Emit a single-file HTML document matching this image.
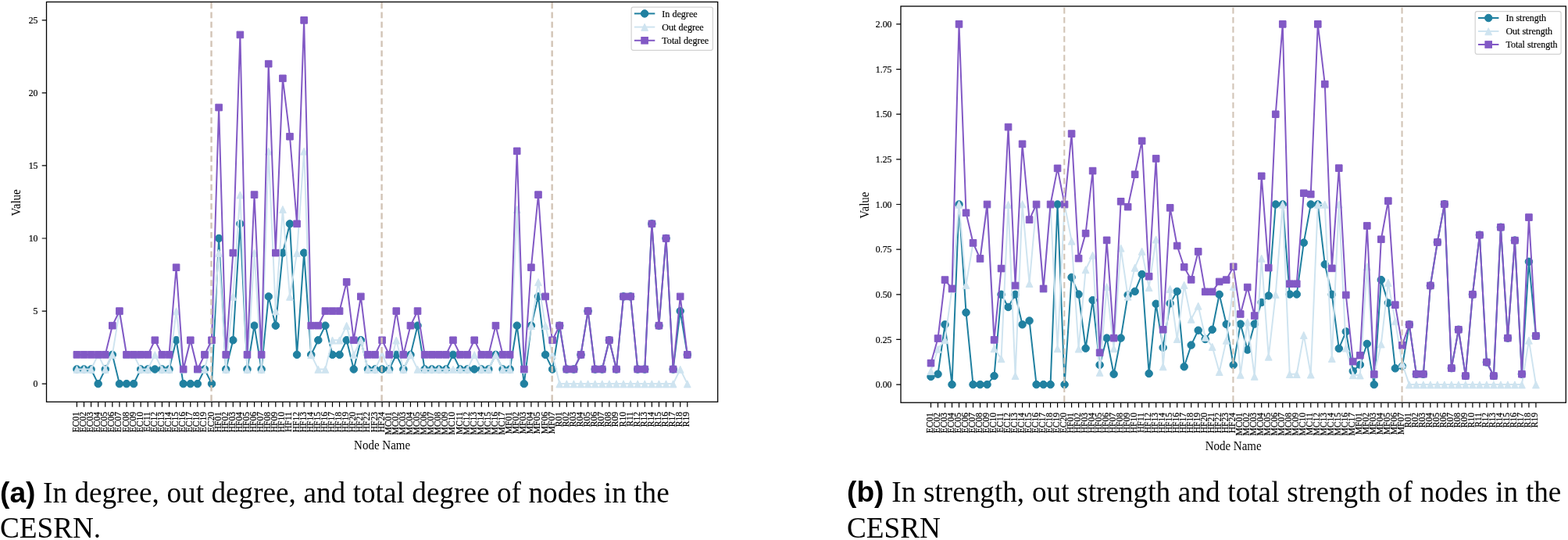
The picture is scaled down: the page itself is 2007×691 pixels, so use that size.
<!DOCTYPE html>
<html><head><meta charset="utf-8"><title>CESRN degree and strength</title>
<style>html,body{margin:0;padding:0;background:#fff}body{width:2007px;height:691px;position:relative;overflow:hidden}</style>
</head><body>
<svg width="2007" height="691" viewBox="0 0 2007 691" style="position:absolute;left:0;top:0"><clipPath id="ca"><rect x="59.5" y="2.5" width="859.2" height="511.75"/></clipPath>
<g clip-path="url(#ca)">
<polyline points="98.4,472.49 107.49,472.49 116.57,472.49 125.66,491.1 134.74,472.49 143.83,453.88 152.92,491.1 162,491.1 171.09,491.1 180.17,472.49 189.26,472.49 198.35,472.49 207.43,472.49 216.52,472.49 225.6,435.27 234.69,491.1 243.78,491.1 252.86,491.1 261.95,472.49 271.03,491.1 280.12,305 289.21,472.49 298.29,435.27 307.38,286.39 316.46,472.49 325.55,416.66 334.64,472.49 343.72,379.44 352.81,416.66 361.89,323.61 370.98,286.39 380.07,453.88 389.15,323.61 398.24,453.88 407.32,435.27 416.41,416.66 425.5,453.88 434.58,453.88 443.67,435.27 452.75,472.49 461.84,435.27 470.93,472.49 480.01,472.49 489.1,472.49 498.18,472.49 507.27,453.88 516.36,472.49 525.44,453.88 534.53,416.66 543.61,472.49 552.7,472.49 561.79,472.49 570.87,472.49 579.96,453.88 589.04,472.49 598.13,472.49 607.22,472.49 616.3,472.49 625.39,472.49 634.47,453.88 643.56,472.49 652.65,472.49 661.73,416.66 670.82,491.1 679.9,416.66 688.99,379.44 698.08,453.88 707.16,472.49 716.25,416.66 725.33,472.49 734.42,472.49 743.51,453.88 752.59,398.05 761.68,472.49 770.76,472.49 779.85,435.27 788.94,472.49 798.02,379.44 807.11,379.44 816.19,472.49 825.28,472.49 834.37,286.39 843.45,416.66 852.54,305 861.62,472.49 870.71,398.05 879.8,453.88" fill="none" stroke="#2080a0" stroke-width="2" stroke-linejoin="round"/>
<path d="M93.65,472.49a4.75,4.75 0 1,0 9.5,0a4.75,4.75 0 1,0 -9.5,0ZM102.74,472.49a4.75,4.75 0 1,0 9.5,0a4.75,4.75 0 1,0 -9.5,0ZM111.82,472.49a4.75,4.75 0 1,0 9.5,0a4.75,4.75 0 1,0 -9.5,0ZM120.91,491.1a4.75,4.75 0 1,0 9.5,0a4.75,4.75 0 1,0 -9.5,0ZM129.99,472.49a4.75,4.75 0 1,0 9.5,0a4.75,4.75 0 1,0 -9.5,0ZM139.08,453.88a4.75,4.75 0 1,0 9.5,0a4.75,4.75 0 1,0 -9.5,0ZM148.17,491.1a4.75,4.75 0 1,0 9.5,0a4.75,4.75 0 1,0 -9.5,0ZM157.25,491.1a4.75,4.75 0 1,0 9.5,0a4.75,4.75 0 1,0 -9.5,0ZM166.34,491.1a4.75,4.75 0 1,0 9.5,0a4.75,4.75 0 1,0 -9.5,0ZM175.42,472.49a4.75,4.75 0 1,0 9.5,0a4.75,4.75 0 1,0 -9.5,0ZM184.51,472.49a4.75,4.75 0 1,0 9.5,0a4.75,4.75 0 1,0 -9.5,0ZM193.6,472.49a4.75,4.75 0 1,0 9.5,0a4.75,4.75 0 1,0 -9.5,0ZM202.68,472.49a4.75,4.75 0 1,0 9.5,0a4.75,4.75 0 1,0 -9.5,0ZM211.77,472.49a4.75,4.75 0 1,0 9.5,0a4.75,4.75 0 1,0 -9.5,0ZM220.85,435.27a4.75,4.75 0 1,0 9.5,0a4.75,4.75 0 1,0 -9.5,0ZM229.94,491.1a4.75,4.75 0 1,0 9.5,0a4.75,4.75 0 1,0 -9.5,0ZM239.03,491.1a4.75,4.75 0 1,0 9.5,0a4.75,4.75 0 1,0 -9.5,0ZM248.11,491.1a4.75,4.75 0 1,0 9.5,0a4.75,4.75 0 1,0 -9.5,0ZM257.2,472.49a4.75,4.75 0 1,0 9.5,0a4.75,4.75 0 1,0 -9.5,0ZM266.28,491.1a4.75,4.75 0 1,0 9.5,0a4.75,4.75 0 1,0 -9.5,0ZM275.37,305a4.75,4.75 0 1,0 9.5,0a4.75,4.75 0 1,0 -9.5,0ZM284.46,472.49a4.75,4.75 0 1,0 9.5,0a4.75,4.75 0 1,0 -9.5,0ZM293.54,435.27a4.75,4.75 0 1,0 9.5,0a4.75,4.75 0 1,0 -9.5,0ZM302.63,286.39a4.75,4.75 0 1,0 9.5,0a4.75,4.75 0 1,0 -9.5,0ZM311.71,472.49a4.75,4.75 0 1,0 9.5,0a4.75,4.75 0 1,0 -9.5,0ZM320.8,416.66a4.75,4.75 0 1,0 9.5,0a4.75,4.75 0 1,0 -9.5,0ZM329.89,472.49a4.75,4.75 0 1,0 9.5,0a4.75,4.75 0 1,0 -9.5,0ZM338.97,379.44a4.75,4.75 0 1,0 9.5,0a4.75,4.75 0 1,0 -9.5,0ZM348.06,416.66a4.75,4.75 0 1,0 9.5,0a4.75,4.75 0 1,0 -9.5,0ZM357.14,323.61a4.75,4.75 0 1,0 9.5,0a4.75,4.75 0 1,0 -9.5,0ZM366.23,286.39a4.75,4.75 0 1,0 9.5,0a4.75,4.75 0 1,0 -9.5,0ZM375.32,453.88a4.75,4.75 0 1,0 9.5,0a4.75,4.75 0 1,0 -9.5,0ZM384.4,323.61a4.75,4.75 0 1,0 9.5,0a4.75,4.75 0 1,0 -9.5,0ZM393.49,453.88a4.75,4.75 0 1,0 9.5,0a4.75,4.75 0 1,0 -9.5,0ZM402.57,435.27a4.75,4.75 0 1,0 9.5,0a4.75,4.75 0 1,0 -9.5,0ZM411.66,416.66a4.75,4.75 0 1,0 9.5,0a4.75,4.75 0 1,0 -9.5,0ZM420.75,453.88a4.75,4.75 0 1,0 9.5,0a4.75,4.75 0 1,0 -9.5,0ZM429.83,453.88a4.75,4.75 0 1,0 9.5,0a4.75,4.75 0 1,0 -9.5,0ZM438.92,435.27a4.75,4.75 0 1,0 9.5,0a4.75,4.75 0 1,0 -9.5,0ZM448,472.49a4.75,4.75 0 1,0 9.5,0a4.75,4.75 0 1,0 -9.5,0ZM457.09,435.27a4.75,4.75 0 1,0 9.5,0a4.75,4.75 0 1,0 -9.5,0ZM466.18,472.49a4.75,4.75 0 1,0 9.5,0a4.75,4.75 0 1,0 -9.5,0ZM475.26,472.49a4.75,4.75 0 1,0 9.5,0a4.75,4.75 0 1,0 -9.5,0ZM484.35,472.49a4.75,4.75 0 1,0 9.5,0a4.75,4.75 0 1,0 -9.5,0ZM493.43,472.49a4.75,4.75 0 1,0 9.5,0a4.75,4.75 0 1,0 -9.5,0ZM502.52,453.88a4.75,4.75 0 1,0 9.5,0a4.75,4.75 0 1,0 -9.5,0ZM511.61,472.49a4.75,4.75 0 1,0 9.5,0a4.75,4.75 0 1,0 -9.5,0ZM520.69,453.88a4.75,4.75 0 1,0 9.5,0a4.75,4.75 0 1,0 -9.5,0ZM529.78,416.66a4.75,4.75 0 1,0 9.5,0a4.75,4.75 0 1,0 -9.5,0ZM538.86,472.49a4.75,4.75 0 1,0 9.5,0a4.75,4.75 0 1,0 -9.5,0ZM547.95,472.49a4.75,4.75 0 1,0 9.5,0a4.75,4.75 0 1,0 -9.5,0ZM557.04,472.49a4.75,4.75 0 1,0 9.5,0a4.75,4.75 0 1,0 -9.5,0ZM566.12,472.49a4.75,4.75 0 1,0 9.5,0a4.75,4.75 0 1,0 -9.5,0ZM575.21,453.88a4.75,4.75 0 1,0 9.5,0a4.75,4.75 0 1,0 -9.5,0ZM584.29,472.49a4.75,4.75 0 1,0 9.5,0a4.75,4.75 0 1,0 -9.5,0ZM593.38,472.49a4.75,4.75 0 1,0 9.5,0a4.75,4.75 0 1,0 -9.5,0ZM602.47,472.49a4.75,4.75 0 1,0 9.5,0a4.75,4.75 0 1,0 -9.5,0ZM611.55,472.49a4.75,4.75 0 1,0 9.5,0a4.75,4.75 0 1,0 -9.5,0ZM620.64,472.49a4.75,4.75 0 1,0 9.5,0a4.75,4.75 0 1,0 -9.5,0ZM629.72,453.88a4.75,4.75 0 1,0 9.5,0a4.75,4.75 0 1,0 -9.5,0ZM638.81,472.49a4.75,4.75 0 1,0 9.5,0a4.75,4.75 0 1,0 -9.5,0ZM647.9,472.49a4.75,4.75 0 1,0 9.5,0a4.75,4.75 0 1,0 -9.5,0ZM656.98,416.66a4.75,4.75 0 1,0 9.5,0a4.75,4.75 0 1,0 -9.5,0ZM666.07,491.1a4.75,4.75 0 1,0 9.5,0a4.75,4.75 0 1,0 -9.5,0ZM675.15,416.66a4.75,4.75 0 1,0 9.5,0a4.75,4.75 0 1,0 -9.5,0ZM684.24,379.44a4.75,4.75 0 1,0 9.5,0a4.75,4.75 0 1,0 -9.5,0ZM693.33,453.88a4.75,4.75 0 1,0 9.5,0a4.75,4.75 0 1,0 -9.5,0ZM702.41,472.49a4.75,4.75 0 1,0 9.5,0a4.75,4.75 0 1,0 -9.5,0ZM711.5,416.66a4.75,4.75 0 1,0 9.5,0a4.75,4.75 0 1,0 -9.5,0ZM720.58,472.49a4.75,4.75 0 1,0 9.5,0a4.75,4.75 0 1,0 -9.5,0ZM729.67,472.49a4.75,4.75 0 1,0 9.5,0a4.75,4.75 0 1,0 -9.5,0ZM738.76,453.88a4.75,4.75 0 1,0 9.5,0a4.75,4.75 0 1,0 -9.5,0ZM747.84,398.05a4.75,4.75 0 1,0 9.5,0a4.75,4.75 0 1,0 -9.5,0ZM756.93,472.49a4.75,4.75 0 1,0 9.5,0a4.75,4.75 0 1,0 -9.5,0ZM766.01,472.49a4.75,4.75 0 1,0 9.5,0a4.75,4.75 0 1,0 -9.5,0ZM775.1,435.27a4.75,4.75 0 1,0 9.5,0a4.75,4.75 0 1,0 -9.5,0ZM784.19,472.49a4.75,4.75 0 1,0 9.5,0a4.75,4.75 0 1,0 -9.5,0ZM793.27,379.44a4.75,4.75 0 1,0 9.5,0a4.75,4.75 0 1,0 -9.5,0ZM802.36,379.44a4.75,4.75 0 1,0 9.5,0a4.75,4.75 0 1,0 -9.5,0ZM811.44,472.49a4.75,4.75 0 1,0 9.5,0a4.75,4.75 0 1,0 -9.5,0ZM820.53,472.49a4.75,4.75 0 1,0 9.5,0a4.75,4.75 0 1,0 -9.5,0ZM829.62,286.39a4.75,4.75 0 1,0 9.5,0a4.75,4.75 0 1,0 -9.5,0ZM838.7,416.66a4.75,4.75 0 1,0 9.5,0a4.75,4.75 0 1,0 -9.5,0ZM847.79,305a4.75,4.75 0 1,0 9.5,0a4.75,4.75 0 1,0 -9.5,0ZM856.87,472.49a4.75,4.75 0 1,0 9.5,0a4.75,4.75 0 1,0 -9.5,0ZM865.96,398.05a4.75,4.75 0 1,0 9.5,0a4.75,4.75 0 1,0 -9.5,0ZM875.05,453.88a4.75,4.75 0 1,0 9.5,0a4.75,4.75 0 1,0 -9.5,0Z" fill="#2080a0" stroke="#2080a0" stroke-width="1"/>
<polyline points="98.4,472.49 107.49,472.49 116.57,472.49 125.66,453.88 134.74,472.49 143.83,453.88 152.92,398.05 162,453.88 171.09,453.88 180.17,472.49 189.26,472.49 198.35,453.88 207.43,472.49 216.52,472.49 225.6,398.05 234.69,472.49 243.78,435.27 252.86,472.49 261.95,472.49 271.03,435.27 280.12,323.61 289.21,472.49 298.29,379.44 307.38,249.17 316.46,472.49 325.55,323.61 334.64,472.49 343.72,193.34 352.81,398.05 361.89,267.78 370.98,379.44 380.07,323.61 389.15,193.34 398.24,453.88 407.32,472.49 416.41,472.49 425.5,435.27 434.58,435.27 443.67,416.66 452.75,453.88 461.84,435.27 470.93,472.49 480.01,472.49 489.1,453.88 498.18,472.49 507.27,435.27 516.36,472.49 525.44,453.88 534.53,472.49 543.61,472.49 552.7,472.49 561.79,472.49 570.87,472.49 579.96,472.49 589.04,472.49 598.13,472.49 607.22,453.88 616.3,472.49 625.39,472.49 634.47,453.88 643.56,472.49 652.65,472.49 661.73,267.78 670.82,472.49 679.9,416.66 688.99,360.83 698.08,416.66 707.16,453.88 716.25,491.1 725.33,491.1 734.42,491.1 743.51,491.1 752.59,491.1 761.68,491.1 770.76,491.1 779.85,491.1 788.94,491.1 798.02,491.1 807.11,491.1 816.19,491.1 825.28,491.1 834.37,491.1 843.45,491.1 852.54,491.1 861.62,491.1 870.71,472.49 879.8,491.1" fill="none" stroke="#cfe4f0" stroke-width="2" stroke-linejoin="round"/>
<path d="M98.4,468.19L94,477.29L102.8,477.29ZM107.49,468.19L103.09,477.29L111.89,477.29ZM116.57,468.19L112.17,477.29L120.97,477.29ZM125.66,449.58L121.26,458.68L130.06,458.68ZM134.74,468.19L130.34,477.29L139.14,477.29ZM143.83,449.58L139.43,458.68L148.23,458.68ZM152.92,393.75L148.52,402.85L157.32,402.85ZM162,449.58L157.6,458.68L166.4,458.68ZM171.09,449.58L166.69,458.68L175.49,458.68ZM180.17,468.19L175.77,477.29L184.57,477.29ZM189.26,468.19L184.86,477.29L193.66,477.29ZM198.35,449.58L193.95,458.68L202.75,458.68ZM207.43,468.19L203.03,477.29L211.83,477.29ZM216.52,468.19L212.12,477.29L220.92,477.29ZM225.6,393.75L221.2,402.85L230,402.85ZM234.69,468.19L230.29,477.29L239.09,477.29ZM243.78,430.97L239.38,440.07L248.18,440.07ZM252.86,468.19L248.46,477.29L257.26,477.29ZM261.95,468.19L257.55,477.29L266.35,477.29ZM271.03,430.97L266.63,440.07L275.43,440.07ZM280.12,319.31L275.72,328.41L284.52,328.41ZM289.21,468.19L284.81,477.29L293.61,477.29ZM298.29,375.14L293.89,384.24L302.69,384.24ZM307.38,244.87L302.98,253.97L311.78,253.97ZM316.46,468.19L312.06,477.29L320.86,477.29ZM325.55,319.31L321.15,328.41L329.95,328.41ZM334.64,468.19L330.24,477.29L339.04,477.29ZM343.72,189.04L339.32,198.14L348.12,198.14ZM352.81,393.75L348.41,402.85L357.21,402.85ZM361.89,263.48L357.49,272.58L366.29,272.58ZM370.98,375.14L366.58,384.24L375.38,384.24ZM380.07,319.31L375.67,328.41L384.47,328.41ZM389.15,189.04L384.75,198.14L393.55,198.14ZM398.24,449.58L393.84,458.68L402.64,458.68ZM407.32,468.19L402.92,477.29L411.72,477.29ZM416.41,468.19L412.01,477.29L420.81,477.29ZM425.5,430.97L421.1,440.07L429.9,440.07ZM434.58,430.97L430.18,440.07L438.98,440.07ZM443.67,412.36L439.27,421.46L448.07,421.46ZM452.75,449.58L448.35,458.68L457.15,458.68ZM461.84,430.97L457.44,440.07L466.24,440.07ZM470.93,468.19L466.53,477.29L475.33,477.29ZM480.01,468.19L475.61,477.29L484.41,477.29ZM489.1,449.58L484.7,458.68L493.5,458.68ZM498.18,468.19L493.78,477.29L502.58,477.29ZM507.27,430.97L502.87,440.07L511.67,440.07ZM516.36,468.19L511.96,477.29L520.76,477.29ZM525.44,449.58L521.04,458.68L529.84,458.68ZM534.53,468.19L530.13,477.29L538.93,477.29ZM543.61,468.19L539.21,477.29L548.01,477.29ZM552.7,468.19L548.3,477.29L557.1,477.29ZM561.79,468.19L557.39,477.29L566.19,477.29ZM570.87,468.19L566.47,477.29L575.27,477.29ZM579.96,468.19L575.56,477.29L584.36,477.29ZM589.04,468.19L584.64,477.29L593.44,477.29ZM598.13,468.19L593.73,477.29L602.53,477.29ZM607.22,449.58L602.82,458.68L611.62,458.68ZM616.3,468.19L611.9,477.29L620.7,477.29ZM625.39,468.19L620.99,477.29L629.79,477.29ZM634.47,449.58L630.07,458.68L638.87,458.68ZM643.56,468.19L639.16,477.29L647.96,477.29ZM652.65,468.19L648.25,477.29L657.05,477.29ZM661.73,263.48L657.33,272.58L666.13,272.58ZM670.82,468.19L666.42,477.29L675.22,477.29ZM679.9,412.36L675.5,421.46L684.3,421.46ZM688.99,356.53L684.59,365.63L693.39,365.63ZM698.08,412.36L693.68,421.46L702.48,421.46ZM707.16,449.58L702.76,458.68L711.56,458.68ZM716.25,486.8L711.85,495.9L720.65,495.9ZM725.33,486.8L720.93,495.9L729.73,495.9ZM734.42,486.8L730.02,495.9L738.82,495.9ZM743.51,486.8L739.11,495.9L747.91,495.9ZM752.59,486.8L748.19,495.9L756.99,495.9ZM761.68,486.8L757.28,495.9L766.08,495.9ZM770.76,486.8L766.36,495.9L775.16,495.9ZM779.85,486.8L775.45,495.9L784.25,495.9ZM788.94,486.8L784.54,495.9L793.34,495.9ZM798.02,486.8L793.62,495.9L802.42,495.9ZM807.11,486.8L802.71,495.9L811.51,495.9ZM816.19,486.8L811.79,495.9L820.59,495.9ZM825.28,486.8L820.88,495.9L829.68,495.9ZM834.37,486.8L829.97,495.9L838.77,495.9ZM843.45,486.8L839.05,495.9L847.85,495.9ZM852.54,486.8L848.14,495.9L856.94,495.9ZM861.62,486.8L857.22,495.9L866.02,495.9ZM870.71,468.19L866.31,477.29L875.11,477.29ZM879.8,486.8L875.4,495.9L884.2,495.9Z" fill="#cfe4f0" stroke="#cfe4f0" stroke-width="1"/>
<polyline points="98.4,453.88 107.49,453.88 116.57,453.88 125.66,453.88 134.74,453.88 143.83,416.66 152.92,398.05 162,453.88 171.09,453.88 180.17,453.88 189.26,453.88 198.35,435.27 207.43,453.88 216.52,453.88 225.6,342.22 234.69,472.49 243.78,435.27 252.86,472.49 261.95,453.88 271.03,435.27 280.12,137.51 289.21,453.88 298.29,323.61 307.38,44.46 316.46,453.88 325.55,249.17 334.64,453.88 343.72,81.68 352.81,323.61 361.89,100.29 370.98,174.73 380.07,286.39 389.15,25.85 398.24,416.66 407.32,416.66 416.41,398.05 425.5,398.05 434.58,398.05 443.67,360.83 452.75,435.27 461.84,379.44 470.93,453.88 480.01,453.88 489.1,435.27 498.18,453.88 507.27,398.05 516.36,453.88 525.44,416.66 534.53,398.05 543.61,453.88 552.7,453.88 561.79,453.88 570.87,453.88 579.96,435.27 589.04,453.88 598.13,453.88 607.22,435.27 616.3,453.88 625.39,453.88 634.47,416.66 643.56,453.88 652.65,453.88 661.73,193.34 670.82,472.49 679.9,342.22 688.99,249.17 698.08,379.44 707.16,435.27 716.25,416.66 725.33,472.49 734.42,472.49 743.51,453.88 752.59,398.05 761.68,472.49 770.76,472.49 779.85,435.27 788.94,472.49 798.02,379.44 807.11,379.44 816.19,472.49 825.28,472.49 834.37,286.39 843.45,416.66 852.54,305 861.62,472.49 870.71,379.44 879.8,453.88" fill="none" stroke="#8259c5" stroke-width="2" stroke-linejoin="round"/>
<path d="M94.1,449.58h8.6v8.6h-8.6ZM103.19,449.58h8.6v8.6h-8.6ZM112.27,449.58h8.6v8.6h-8.6ZM121.36,449.58h8.6v8.6h-8.6ZM130.44,449.58h8.6v8.6h-8.6ZM139.53,412.36h8.6v8.6h-8.6ZM148.62,393.75h8.6v8.6h-8.6ZM157.7,449.58h8.6v8.6h-8.6ZM166.79,449.58h8.6v8.6h-8.6ZM175.87,449.58h8.6v8.6h-8.6ZM184.96,449.58h8.6v8.6h-8.6ZM194.05,430.97h8.6v8.6h-8.6ZM203.13,449.58h8.6v8.6h-8.6ZM212.22,449.58h8.6v8.6h-8.6ZM221.3,337.92h8.6v8.6h-8.6ZM230.39,468.19h8.6v8.6h-8.6ZM239.48,430.97h8.6v8.6h-8.6ZM248.56,468.19h8.6v8.6h-8.6ZM257.65,449.58h8.6v8.6h-8.6ZM266.73,430.97h8.6v8.6h-8.6ZM275.82,133.21h8.6v8.6h-8.6ZM284.91,449.58h8.6v8.6h-8.6ZM293.99,319.31h8.6v8.6h-8.6ZM303.08,40.16h8.6v8.6h-8.6ZM312.16,449.58h8.6v8.6h-8.6ZM321.25,244.87h8.6v8.6h-8.6ZM330.34,449.58h8.6v8.6h-8.6ZM339.42,77.38h8.6v8.6h-8.6ZM348.51,319.31h8.6v8.6h-8.6ZM357.59,95.99h8.6v8.6h-8.6ZM366.68,170.43h8.6v8.6h-8.6ZM375.77,282.09h8.6v8.6h-8.6ZM384.85,21.55h8.6v8.6h-8.6ZM393.94,412.36h8.6v8.6h-8.6ZM403.02,412.36h8.6v8.6h-8.6ZM412.11,393.75h8.6v8.6h-8.6ZM421.2,393.75h8.6v8.6h-8.6ZM430.28,393.75h8.6v8.6h-8.6ZM439.37,356.53h8.6v8.6h-8.6ZM448.45,430.97h8.6v8.6h-8.6ZM457.54,375.14h8.6v8.6h-8.6ZM466.63,449.58h8.6v8.6h-8.6ZM475.71,449.58h8.6v8.6h-8.6ZM484.8,430.97h8.6v8.6h-8.6ZM493.88,449.58h8.6v8.6h-8.6ZM502.97,393.75h8.6v8.6h-8.6ZM512.06,449.58h8.6v8.6h-8.6ZM521.14,412.36h8.6v8.6h-8.6ZM530.23,393.75h8.6v8.6h-8.6ZM539.31,449.58h8.6v8.6h-8.6ZM548.4,449.58h8.6v8.6h-8.6ZM557.49,449.58h8.6v8.6h-8.6ZM566.57,449.58h8.6v8.6h-8.6ZM575.66,430.97h8.6v8.6h-8.6ZM584.74,449.58h8.6v8.6h-8.6ZM593.83,449.58h8.6v8.6h-8.6ZM602.92,430.97h8.6v8.6h-8.6ZM612,449.58h8.6v8.6h-8.6ZM621.09,449.58h8.6v8.6h-8.6ZM630.17,412.36h8.6v8.6h-8.6ZM639.26,449.58h8.6v8.6h-8.6ZM648.35,449.58h8.6v8.6h-8.6ZM657.43,189.04h8.6v8.6h-8.6ZM666.52,468.19h8.6v8.6h-8.6ZM675.6,337.92h8.6v8.6h-8.6ZM684.69,244.87h8.6v8.6h-8.6ZM693.78,375.14h8.6v8.6h-8.6ZM702.86,430.97h8.6v8.6h-8.6ZM711.95,412.36h8.6v8.6h-8.6ZM721.03,468.19h8.6v8.6h-8.6ZM730.12,468.19h8.6v8.6h-8.6ZM739.21,449.58h8.6v8.6h-8.6ZM748.29,393.75h8.6v8.6h-8.6ZM757.38,468.19h8.6v8.6h-8.6ZM766.46,468.19h8.6v8.6h-8.6ZM775.55,430.97h8.6v8.6h-8.6ZM784.64,468.19h8.6v8.6h-8.6ZM793.72,375.14h8.6v8.6h-8.6ZM802.81,375.14h8.6v8.6h-8.6ZM811.89,468.19h8.6v8.6h-8.6ZM820.98,468.19h8.6v8.6h-8.6ZM830.07,282.09h8.6v8.6h-8.6ZM839.15,412.36h8.6v8.6h-8.6ZM848.24,300.7h8.6v8.6h-8.6ZM857.32,468.19h8.6v8.6h-8.6ZM866.41,375.14h8.6v8.6h-8.6ZM875.5,449.58h8.6v8.6h-8.6Z" fill="#8259c5" stroke="#8259c5" stroke-width="1"/>
<line x1="270.53" y1="3.3" x2="270.53" y2="516.25" stroke="#d2c4b6" stroke-width="2.4" stroke-dasharray="7.8,4.44"/>
<line x1="488.6" y1="3.3" x2="488.6" y2="516.25" stroke="#d2c4b6" stroke-width="2.4" stroke-dasharray="7.8,4.44"/>
<line x1="706.66" y1="3.3" x2="706.66" y2="516.25" stroke="#d2c4b6" stroke-width="2.4" stroke-dasharray="7.8,4.44"/>
</g>
<rect x="59.5" y="2.5" width="859.2" height="511.75" fill="none" stroke="#000" stroke-width="1.3"/>
<path d="M98.4,514.25v6.4M107.49,514.25v6.4M116.57,514.25v6.4M125.66,514.25v6.4M134.74,514.25v6.4M143.83,514.25v6.4M152.92,514.25v6.4M162,514.25v6.4M171.09,514.25v6.4M180.17,514.25v6.4M189.26,514.25v6.4M198.35,514.25v6.4M207.43,514.25v6.4M216.52,514.25v6.4M225.6,514.25v6.4M234.69,514.25v6.4M243.78,514.25v6.4M252.86,514.25v6.4M261.95,514.25v6.4M271.03,514.25v6.4M280.12,514.25v6.4M289.21,514.25v6.4M298.29,514.25v6.4M307.38,514.25v6.4M316.46,514.25v6.4M325.55,514.25v6.4M334.64,514.25v6.4M343.72,514.25v6.4M352.81,514.25v6.4M361.89,514.25v6.4M370.98,514.25v6.4M380.07,514.25v6.4M389.15,514.25v6.4M398.24,514.25v6.4M407.32,514.25v6.4M416.41,514.25v6.4M425.5,514.25v6.4M434.58,514.25v6.4M443.67,514.25v6.4M452.75,514.25v6.4M461.84,514.25v6.4M470.93,514.25v6.4M480.01,514.25v6.4M489.1,514.25v6.4M498.18,514.25v6.4M507.27,514.25v6.4M516.36,514.25v6.4M525.44,514.25v6.4M534.53,514.25v6.4M543.61,514.25v6.4M552.7,514.25v6.4M561.79,514.25v6.4M570.87,514.25v6.4M579.96,514.25v6.4M589.04,514.25v6.4M598.13,514.25v6.4M607.22,514.25v6.4M616.3,514.25v6.4M625.39,514.25v6.4M634.47,514.25v6.4M643.56,514.25v6.4M652.65,514.25v6.4M661.73,514.25v6.4M670.82,514.25v6.4M679.9,514.25v6.4M688.99,514.25v6.4M698.08,514.25v6.4M707.16,514.25v6.4M716.25,514.25v6.4M725.33,514.25v6.4M734.42,514.25v6.4M743.51,514.25v6.4M752.59,514.25v6.4M761.68,514.25v6.4M770.76,514.25v6.4M779.85,514.25v6.4M788.94,514.25v6.4M798.02,514.25v6.4M807.11,514.25v6.4M816.19,514.25v6.4M825.28,514.25v6.4M834.37,514.25v6.4M843.45,514.25v6.4M852.54,514.25v6.4M861.62,514.25v6.4M870.71,514.25v6.4M879.8,514.25v6.4M59.5,491.1h-5.8M59.5,398.05h-5.8M59.5,305h-5.8M59.5,211.95h-5.8M59.5,118.9h-5.8M59.5,25.85h-5.8" stroke="#000" stroke-width="1.2" fill="none"/>
<g font-family="'Liberation Serif', 'Times New Roman', serif" font-size="11.5" fill="#000" stroke="#000" stroke-width="0.2" text-anchor="end"><text transform="translate(100.9,527.0) rotate(-90)">EC01</text><text transform="translate(109.99,527.0) rotate(-90)">EC02</text><text transform="translate(119.07,527.0) rotate(-90)">EC03</text><text transform="translate(128.16,527.0) rotate(-90)">EC04</text><text transform="translate(137.24,527.0) rotate(-90)">EC05</text><text transform="translate(146.33,527.0) rotate(-90)">EC06</text><text transform="translate(155.42,527.0) rotate(-90)">EC07</text><text transform="translate(164.5,527.0) rotate(-90)">EC08</text><text transform="translate(173.59,527.0) rotate(-90)">EC09</text><text transform="translate(182.67,527.0) rotate(-90)">EC10</text><text transform="translate(191.76,527.0) rotate(-90)">EC11</text><text transform="translate(200.85,527.0) rotate(-90)">EC12</text><text transform="translate(209.93,527.0) rotate(-90)">EC13</text><text transform="translate(219.02,527.0) rotate(-90)">EC14</text><text transform="translate(228.1,527.0) rotate(-90)">EC15</text><text transform="translate(237.19,527.0) rotate(-90)">EC16</text><text transform="translate(246.28,527.0) rotate(-90)">EC17</text><text transform="translate(255.36,527.0) rotate(-90)">EC18</text><text transform="translate(264.45,527.0) rotate(-90)">EC19</text><text transform="translate(273.53,527.0) rotate(-90)">EC20</text><text transform="translate(282.62,527.0) rotate(-90)">HF01</text><text transform="translate(291.71,527.0) rotate(-90)">HF02</text><text transform="translate(300.79,527.0) rotate(-90)">HF03</text><text transform="translate(309.88,527.0) rotate(-90)">HF04</text><text transform="translate(318.96,527.0) rotate(-90)">HF05</text><text transform="translate(328.05,527.0) rotate(-90)">HF06</text><text transform="translate(337.14,527.0) rotate(-90)">HF07</text><text transform="translate(346.22,527.0) rotate(-90)">HF08</text><text transform="translate(355.31,527.0) rotate(-90)">HF09</text><text transform="translate(364.39,527.0) rotate(-90)">HF10</text><text transform="translate(373.48,527.0) rotate(-90)">HF11</text><text transform="translate(382.57,527.0) rotate(-90)">HF12</text><text transform="translate(391.65,527.0) rotate(-90)">HF13</text><text transform="translate(400.74,527.0) rotate(-90)">HF14</text><text transform="translate(409.82,527.0) rotate(-90)">HF15</text><text transform="translate(418.91,527.0) rotate(-90)">HF16</text><text transform="translate(428,527.0) rotate(-90)">HF17</text><text transform="translate(437.08,527.0) rotate(-90)">HF18</text><text transform="translate(446.17,527.0) rotate(-90)">HF19</text><text transform="translate(455.25,527.0) rotate(-90)">HF20</text><text transform="translate(464.34,527.0) rotate(-90)">HF21</text><text transform="translate(473.43,527.0) rotate(-90)">HF22</text><text transform="translate(482.51,527.0) rotate(-90)">HF23</text><text transform="translate(491.6,527.0) rotate(-90)">HF24</text><text transform="translate(500.68,527.0) rotate(-90)">MC01</text><text transform="translate(509.77,527.0) rotate(-90)">MC02</text><text transform="translate(518.86,527.0) rotate(-90)">MC03</text><text transform="translate(527.94,527.0) rotate(-90)">MC04</text><text transform="translate(537.03,527.0) rotate(-90)">MC05</text><text transform="translate(546.11,527.0) rotate(-90)">MC06</text><text transform="translate(555.2,527.0) rotate(-90)">MC07</text><text transform="translate(564.29,527.0) rotate(-90)">MC08</text><text transform="translate(573.37,527.0) rotate(-90)">MC09</text><text transform="translate(582.46,527.0) rotate(-90)">MC10</text><text transform="translate(591.54,527.0) rotate(-90)">MC11</text><text transform="translate(600.63,527.0) rotate(-90)">MC12</text><text transform="translate(609.72,527.0) rotate(-90)">MC13</text><text transform="translate(618.8,527.0) rotate(-90)">MC14</text><text transform="translate(627.89,527.0) rotate(-90)">MC15</text><text transform="translate(636.97,527.0) rotate(-90)">MC16</text><text transform="translate(646.06,527.0) rotate(-90)">MC17</text><text transform="translate(655.15,527.0) rotate(-90)">MF01</text><text transform="translate(664.23,527.0) rotate(-90)">MF02</text><text transform="translate(673.32,527.0) rotate(-90)">MF03</text><text transform="translate(682.4,527.0) rotate(-90)">MF04</text><text transform="translate(691.49,527.0) rotate(-90)">MF05</text><text transform="translate(700.58,527.0) rotate(-90)">MF06</text><text transform="translate(709.66,527.0) rotate(-90)">MF07</text><text transform="translate(718.75,527.0) rotate(-90)">R01</text><text transform="translate(727.83,527.0) rotate(-90)">R02</text><text transform="translate(736.92,527.0) rotate(-90)">R03</text><text transform="translate(746.01,527.0) rotate(-90)">R04</text><text transform="translate(755.09,527.0) rotate(-90)">R05</text><text transform="translate(764.18,527.0) rotate(-90)">R06</text><text transform="translate(773.26,527.0) rotate(-90)">R07</text><text transform="translate(782.35,527.0) rotate(-90)">R08</text><text transform="translate(791.44,527.0) rotate(-90)">R09</text><text transform="translate(800.52,527.0) rotate(-90)">R10</text><text transform="translate(809.61,527.0) rotate(-90)">R11</text><text transform="translate(818.69,527.0) rotate(-90)">R12</text><text transform="translate(827.78,527.0) rotate(-90)">R13</text><text transform="translate(836.87,527.0) rotate(-90)">R14</text><text transform="translate(845.95,527.0) rotate(-90)">R15</text><text transform="translate(855.04,527.0) rotate(-90)">R16</text><text transform="translate(864.12,527.0) rotate(-90)">R17</text><text transform="translate(873.21,527.0) rotate(-90)">R18</text><text transform="translate(882.3,527.0) rotate(-90)">R19</text></g>
<g font-family="'Liberation Serif', 'Times New Roman', serif" font-size="11.8" fill="#000" stroke="#000" stroke-width="0.2" text-anchor="end"><text x="48.5" y="495.2">0</text><text x="48.5" y="402.15">5</text><text x="48.5" y="309.1">10</text><text x="48.5" y="216.05">15</text><text x="48.5" y="123">20</text><text x="48.5" y="29.95">25</text></g>
<text transform="translate(489.1,574.7) scale(1,1.09)" font-family="'Liberation Serif', 'Times New Roman', serif" font-size="15" text-anchor="middle">Node Name</text>
<text transform="translate(25.8,259.38) rotate(-90) scale(1,1.1)" font-family="'Liberation Serif', 'Times New Roman', serif" font-size="15" text-anchor="middle">Value</text>
<rect x="808.1" y="9.1" width="104.3" height="55.2" rx="2.5" fill="#fff" fill-opacity="0.8" stroke="#d2d2d2" stroke-width="1.2"/>
<line x1="811.9" y1="17.4" x2="838.3" y2="17.4" stroke="#2080a0" stroke-width="2"/>
<circle cx="825.1" cy="17.4" r="4.75" fill="#2080a0" stroke="#2080a0"/>
<text x="847.3" y="21.7" font-family="'Liberation Serif', 'Times New Roman', serif" font-size="12.1" stroke="#000" stroke-width="0.18">In degree</text>
<line x1="811.9" y1="34.6" x2="838.3" y2="34.6" stroke="#cfe4f0" stroke-width="2"/>
<path d="M825.1,30.3L820.7,39.4L829.5,39.4Z" fill="#cfe4f0" stroke="#cfe4f0"/>
<text x="847.3" y="38.9" font-family="'Liberation Serif', 'Times New Roman', serif" font-size="12.1" stroke="#000" stroke-width="0.18">Out degree</text>
<line x1="811.9" y1="51.8" x2="838.3" y2="51.8" stroke="#8259c5" stroke-width="2"/>
<rect x="820.8" y="47.5" width="8.6" height="8.6" fill="#8259c5" stroke="#8259c5"/>
<text x="847.3" y="56.1" font-family="'Liberation Serif', 'Times New Roman', serif" font-size="12.1" stroke="#000" stroke-width="0.18">Total degree</text><clipPath id="cb"><rect x="1153" y="8" width="851.3" height="507.2"/></clipPath>
<g clip-path="url(#cb)">
<polyline points="1191.5,481.95 1200.51,478.73 1209.51,415.31 1218.52,492.1 1227.52,261.5 1236.53,399.86 1245.53,492.1 1254.54,492.1 1263.54,492.1 1272.55,481.03 1281.55,376.8 1290.56,392.94 1299.56,376.8 1308.57,415.31 1317.57,410.47 1326.58,492.1 1335.58,492.1 1344.59,492.1 1353.59,261.5 1362.6,492.1 1371.6,354.89 1380.61,376.57 1389.61,445.75 1398.62,384.18 1407.62,466.96 1416.62,432.61 1425.63,478.73 1434.63,432.61 1443.64,377.49 1452.64,372.88 1461.65,350.97 1470.65,478.03 1479.66,388.79 1488.66,444.83 1497.67,388.33 1506.67,372.88 1515.68,469.27 1524.68,441.6 1533.69,422.69 1542.7,433.99 1551.7,421.77 1560.7,376.8 1569.71,414.85 1578.72,466.96 1587.72,414.62 1596.72,447.59 1605.73,414.62 1614.74,386.95 1623.74,378.41 1632.75,261.5 1641.75,261.5 1650.76,376.57 1659.76,376.57 1668.77,310.62 1677.77,261.5 1686.78,261.5 1695.78,338.29 1704.79,376.8 1713.79,445.98 1722.8,424.3 1731.8,474.81 1740.81,466.73 1749.81,439.98 1758.82,492.1 1767.82,358.12 1776.83,387.64 1785.83,471.35 1794.84,468.58 1803.84,415.31 1812.85,478.73 1821.85,478.73 1830.86,365.5 1839.86,309.93 1848.87,261.27 1857.87,471.12 1866.88,421.77 1875.88,481.03 1884.89,376.8 1893.89,300.7 1902.89,463.51 1911.9,481.03 1920.91,290.79 1929.91,432.61 1938.91,307.62 1947.92,478.73 1956.93,334.83 1965.93,429.84" fill="none" stroke="#2080a0" stroke-width="2" stroke-linejoin="round"/>
<path d="M1186.75,481.95a4.75,4.75 0 1,0 9.5,0a4.75,4.75 0 1,0 -9.5,0ZM1195.76,478.73a4.75,4.75 0 1,0 9.5,0a4.75,4.75 0 1,0 -9.5,0ZM1204.76,415.31a4.75,4.75 0 1,0 9.5,0a4.75,4.75 0 1,0 -9.5,0ZM1213.77,492.1a4.75,4.75 0 1,0 9.5,0a4.75,4.75 0 1,0 -9.5,0ZM1222.77,261.5a4.75,4.75 0 1,0 9.5,0a4.75,4.75 0 1,0 -9.5,0ZM1231.78,399.86a4.75,4.75 0 1,0 9.5,0a4.75,4.75 0 1,0 -9.5,0ZM1240.78,492.1a4.75,4.75 0 1,0 9.5,0a4.75,4.75 0 1,0 -9.5,0ZM1249.79,492.1a4.75,4.75 0 1,0 9.5,0a4.75,4.75 0 1,0 -9.5,0ZM1258.79,492.1a4.75,4.75 0 1,0 9.5,0a4.75,4.75 0 1,0 -9.5,0ZM1267.8,481.03a4.75,4.75 0 1,0 9.5,0a4.75,4.75 0 1,0 -9.5,0ZM1276.8,376.8a4.75,4.75 0 1,0 9.5,0a4.75,4.75 0 1,0 -9.5,0ZM1285.81,392.94a4.75,4.75 0 1,0 9.5,0a4.75,4.75 0 1,0 -9.5,0ZM1294.81,376.8a4.75,4.75 0 1,0 9.5,0a4.75,4.75 0 1,0 -9.5,0ZM1303.82,415.31a4.75,4.75 0 1,0 9.5,0a4.75,4.75 0 1,0 -9.5,0ZM1312.82,410.47a4.75,4.75 0 1,0 9.5,0a4.75,4.75 0 1,0 -9.5,0ZM1321.83,492.1a4.75,4.75 0 1,0 9.5,0a4.75,4.75 0 1,0 -9.5,0ZM1330.83,492.1a4.75,4.75 0 1,0 9.5,0a4.75,4.75 0 1,0 -9.5,0ZM1339.84,492.1a4.75,4.75 0 1,0 9.5,0a4.75,4.75 0 1,0 -9.5,0ZM1348.84,261.5a4.75,4.75 0 1,0 9.5,0a4.75,4.75 0 1,0 -9.5,0ZM1357.85,492.1a4.75,4.75 0 1,0 9.5,0a4.75,4.75 0 1,0 -9.5,0ZM1366.85,354.89a4.75,4.75 0 1,0 9.5,0a4.75,4.75 0 1,0 -9.5,0ZM1375.86,376.57a4.75,4.75 0 1,0 9.5,0a4.75,4.75 0 1,0 -9.5,0ZM1384.86,445.75a4.75,4.75 0 1,0 9.5,0a4.75,4.75 0 1,0 -9.5,0ZM1393.87,384.18a4.75,4.75 0 1,0 9.5,0a4.75,4.75 0 1,0 -9.5,0ZM1402.87,466.96a4.75,4.75 0 1,0 9.5,0a4.75,4.75 0 1,0 -9.5,0ZM1411.88,432.61a4.75,4.75 0 1,0 9.5,0a4.75,4.75 0 1,0 -9.5,0ZM1420.88,478.73a4.75,4.75 0 1,0 9.5,0a4.75,4.75 0 1,0 -9.5,0ZM1429.88,432.61a4.75,4.75 0 1,0 9.5,0a4.75,4.75 0 1,0 -9.5,0ZM1438.89,377.49a4.75,4.75 0 1,0 9.5,0a4.75,4.75 0 1,0 -9.5,0ZM1447.89,372.88a4.75,4.75 0 1,0 9.5,0a4.75,4.75 0 1,0 -9.5,0ZM1456.9,350.97a4.75,4.75 0 1,0 9.5,0a4.75,4.75 0 1,0 -9.5,0ZM1465.9,478.03a4.75,4.75 0 1,0 9.5,0a4.75,4.75 0 1,0 -9.5,0ZM1474.91,388.79a4.75,4.75 0 1,0 9.5,0a4.75,4.75 0 1,0 -9.5,0ZM1483.91,444.83a4.75,4.75 0 1,0 9.5,0a4.75,4.75 0 1,0 -9.5,0ZM1492.92,388.33a4.75,4.75 0 1,0 9.5,0a4.75,4.75 0 1,0 -9.5,0ZM1501.92,372.88a4.75,4.75 0 1,0 9.5,0a4.75,4.75 0 1,0 -9.5,0ZM1510.93,469.27a4.75,4.75 0 1,0 9.5,0a4.75,4.75 0 1,0 -9.5,0ZM1519.93,441.6a4.75,4.75 0 1,0 9.5,0a4.75,4.75 0 1,0 -9.5,0ZM1528.94,422.69a4.75,4.75 0 1,0 9.5,0a4.75,4.75 0 1,0 -9.5,0ZM1537.95,433.99a4.75,4.75 0 1,0 9.5,0a4.75,4.75 0 1,0 -9.5,0ZM1546.95,421.77a4.75,4.75 0 1,0 9.5,0a4.75,4.75 0 1,0 -9.5,0ZM1555.95,376.8a4.75,4.75 0 1,0 9.5,0a4.75,4.75 0 1,0 -9.5,0ZM1564.96,414.85a4.75,4.75 0 1,0 9.5,0a4.75,4.75 0 1,0 -9.5,0ZM1573.97,466.96a4.75,4.75 0 1,0 9.5,0a4.75,4.75 0 1,0 -9.5,0ZM1582.97,414.62a4.75,4.75 0 1,0 9.5,0a4.75,4.75 0 1,0 -9.5,0ZM1591.97,447.59a4.75,4.75 0 1,0 9.5,0a4.75,4.75 0 1,0 -9.5,0ZM1600.98,414.62a4.75,4.75 0 1,0 9.5,0a4.75,4.75 0 1,0 -9.5,0ZM1609.99,386.95a4.75,4.75 0 1,0 9.5,0a4.75,4.75 0 1,0 -9.5,0ZM1618.99,378.41a4.75,4.75 0 1,0 9.5,0a4.75,4.75 0 1,0 -9.5,0ZM1628,261.5a4.75,4.75 0 1,0 9.5,0a4.75,4.75 0 1,0 -9.5,0ZM1637,261.5a4.75,4.75 0 1,0 9.5,0a4.75,4.75 0 1,0 -9.5,0ZM1646.01,376.57a4.75,4.75 0 1,0 9.5,0a4.75,4.75 0 1,0 -9.5,0ZM1655.01,376.57a4.75,4.75 0 1,0 9.5,0a4.75,4.75 0 1,0 -9.5,0ZM1664.02,310.62a4.75,4.75 0 1,0 9.5,0a4.75,4.75 0 1,0 -9.5,0ZM1673.02,261.5a4.75,4.75 0 1,0 9.5,0a4.75,4.75 0 1,0 -9.5,0ZM1682.03,261.5a4.75,4.75 0 1,0 9.5,0a4.75,4.75 0 1,0 -9.5,0ZM1691.03,338.29a4.75,4.75 0 1,0 9.5,0a4.75,4.75 0 1,0 -9.5,0ZM1700.04,376.8a4.75,4.75 0 1,0 9.5,0a4.75,4.75 0 1,0 -9.5,0ZM1709.04,445.98a4.75,4.75 0 1,0 9.5,0a4.75,4.75 0 1,0 -9.5,0ZM1718.05,424.3a4.75,4.75 0 1,0 9.5,0a4.75,4.75 0 1,0 -9.5,0ZM1727.05,474.81a4.75,4.75 0 1,0 9.5,0a4.75,4.75 0 1,0 -9.5,0ZM1736.06,466.73a4.75,4.75 0 1,0 9.5,0a4.75,4.75 0 1,0 -9.5,0ZM1745.06,439.98a4.75,4.75 0 1,0 9.5,0a4.75,4.75 0 1,0 -9.5,0ZM1754.07,492.1a4.75,4.75 0 1,0 9.5,0a4.75,4.75 0 1,0 -9.5,0ZM1763.07,358.12a4.75,4.75 0 1,0 9.5,0a4.75,4.75 0 1,0 -9.5,0ZM1772.08,387.64a4.75,4.75 0 1,0 9.5,0a4.75,4.75 0 1,0 -9.5,0ZM1781.08,471.35a4.75,4.75 0 1,0 9.5,0a4.75,4.75 0 1,0 -9.5,0ZM1790.09,468.58a4.75,4.75 0 1,0 9.5,0a4.75,4.75 0 1,0 -9.5,0ZM1799.09,415.31a4.75,4.75 0 1,0 9.5,0a4.75,4.75 0 1,0 -9.5,0ZM1808.1,478.73a4.75,4.75 0 1,0 9.5,0a4.75,4.75 0 1,0 -9.5,0ZM1817.1,478.73a4.75,4.75 0 1,0 9.5,0a4.75,4.75 0 1,0 -9.5,0ZM1826.11,365.5a4.75,4.75 0 1,0 9.5,0a4.75,4.75 0 1,0 -9.5,0ZM1835.11,309.93a4.75,4.75 0 1,0 9.5,0a4.75,4.75 0 1,0 -9.5,0ZM1844.12,261.27a4.75,4.75 0 1,0 9.5,0a4.75,4.75 0 1,0 -9.5,0ZM1853.12,471.12a4.75,4.75 0 1,0 9.5,0a4.75,4.75 0 1,0 -9.5,0ZM1862.12,421.77a4.75,4.75 0 1,0 9.5,0a4.75,4.75 0 1,0 -9.5,0ZM1871.13,481.03a4.75,4.75 0 1,0 9.5,0a4.75,4.75 0 1,0 -9.5,0ZM1880.14,376.8a4.75,4.75 0 1,0 9.5,0a4.75,4.75 0 1,0 -9.5,0ZM1889.14,300.7a4.75,4.75 0 1,0 9.5,0a4.75,4.75 0 1,0 -9.5,0ZM1898.14,463.51a4.75,4.75 0 1,0 9.5,0a4.75,4.75 0 1,0 -9.5,0ZM1907.15,481.03a4.75,4.75 0 1,0 9.5,0a4.75,4.75 0 1,0 -9.5,0ZM1916.16,290.79a4.75,4.75 0 1,0 9.5,0a4.75,4.75 0 1,0 -9.5,0ZM1925.16,432.61a4.75,4.75 0 1,0 9.5,0a4.75,4.75 0 1,0 -9.5,0ZM1934.16,307.62a4.75,4.75 0 1,0 9.5,0a4.75,4.75 0 1,0 -9.5,0ZM1943.17,478.73a4.75,4.75 0 1,0 9.5,0a4.75,4.75 0 1,0 -9.5,0ZM1952.18,334.83a4.75,4.75 0 1,0 9.5,0a4.75,4.75 0 1,0 -9.5,0ZM1961.18,429.84a4.75,4.75 0 1,0 9.5,0a4.75,4.75 0 1,0 -9.5,0Z" fill="#2080a0" stroke="#2080a0" stroke-width="1"/>
<polyline points="1191.5,474.81 1200.51,446.44 1209.51,434.91 1218.52,369.42 1227.52,261.5 1236.53,364.58 1245.53,310.85 1254.54,330.91 1263.54,261.5 1272.55,445.98 1281.55,458.89 1290.56,261.73 1299.56,480.8 1308.57,261.04 1317.57,362.73 1326.58,261.5 1335.58,369.42 1344.59,261.5 1353.59,445.98 1362.6,261.5 1371.6,308.31 1380.61,446.21 1389.61,344.98 1398.62,326.53 1407.62,476.42 1416.62,366.88 1425.63,445.98 1434.63,317.31 1443.64,379.34 1452.64,342.44 1461.65,321.46 1470.65,367.81 1479.66,306.24 1488.66,469.04 1497.67,369.65 1506.67,433.76 1515.68,364.58 1524.68,408.39 1533.69,391.33 1542.7,431.45 1551.7,443.67 1560.7,475.73 1569.71,435.37 1578.72,366.42 1587.72,479.42 1596.72,412.08 1605.73,481.49 1614.74,330.45 1623.74,456.36 1632.75,376.8 1641.75,261.5 1650.76,478.73 1659.76,478.73 1668.77,428.69 1677.77,479.19 1686.78,261.5 1695.78,261.5 1704.79,458.66 1713.79,261.27 1722.8,445.29 1731.8,479.88 1740.81,480.11 1749.81,341.06 1758.82,478.96 1767.82,440.22 1776.83,361.58 1785.83,410.93 1794.84,465.35 1803.84,492.1 1812.85,492.1 1821.85,492.1 1830.86,492.1 1839.86,492.1 1848.87,492.1 1857.87,492.1 1866.88,492.1 1875.88,492.1 1884.89,492.1 1893.89,492.1 1902.89,492.1 1911.9,492.1 1920.91,492.1 1929.91,492.1 1938.91,492.1 1947.92,492.1 1956.93,435.37 1965.93,492.1" fill="none" stroke="#cfe4f0" stroke-width="2" stroke-linejoin="round"/>
<path d="M1191.5,470.5L1187.1,479.61L1195.9,479.61ZM1200.51,442.14L1196.11,451.24L1204.91,451.24ZM1209.51,430.61L1205.11,439.71L1213.91,439.71ZM1218.52,365.12L1214.12,374.22L1222.92,374.22ZM1227.52,257.2L1223.12,266.3L1231.92,266.3ZM1236.53,360.28L1232.12,369.38L1240.93,369.38ZM1245.53,306.55L1241.13,315.65L1249.93,315.65ZM1254.54,326.61L1250.13,335.71L1258.94,335.71ZM1263.54,257.2L1259.14,266.3L1267.94,266.3ZM1272.55,441.68L1268.14,450.78L1276.95,450.78ZM1281.55,454.59L1277.15,463.69L1285.95,463.69ZM1290.56,257.43L1286.15,266.53L1294.96,266.53ZM1299.56,476.5L1295.16,485.6L1303.96,485.6ZM1308.57,256.74L1304.16,265.84L1312.97,265.84ZM1317.57,358.43L1313.17,367.53L1321.97,367.53ZM1326.58,257.2L1322.17,266.3L1330.98,266.3ZM1335.58,365.12L1331.18,374.22L1339.98,374.22ZM1344.59,257.2L1340.18,266.3L1348.99,266.3ZM1353.59,441.68L1349.19,450.78L1357.99,450.78ZM1362.6,257.2L1358.19,266.3L1367,266.3ZM1371.6,304.01L1367.2,313.11L1376,313.11ZM1380.61,441.91L1376.2,451.01L1385.01,451.01ZM1389.61,340.68L1385.21,349.78L1394.01,349.78ZM1398.62,322.23L1394.21,331.33L1403.02,331.33ZM1407.62,472.12L1403.22,481.22L1412.02,481.22ZM1416.62,362.58L1412.22,371.68L1421.03,371.68ZM1425.63,441.68L1421.23,450.78L1430.03,450.78ZM1434.63,313.01L1430.23,322.11L1439.04,322.11ZM1443.64,375.04L1439.24,384.14L1448.04,384.14ZM1452.64,338.14L1448.24,347.24L1457.05,347.24ZM1461.65,317.16L1457.25,326.26L1466.05,326.26ZM1470.65,363.51L1466.25,372.61L1475.06,372.61ZM1479.66,301.94L1475.26,311.04L1484.06,311.04ZM1488.66,464.74L1484.26,473.84L1493.07,473.84ZM1497.67,365.35L1493.27,374.45L1502.07,374.45ZM1506.67,429.46L1502.27,438.56L1511.08,438.56ZM1515.68,360.28L1511.28,369.38L1520.08,369.38ZM1524.68,404.09L1520.28,413.19L1529.09,413.19ZM1533.69,387.03L1529.29,396.13L1538.09,396.13ZM1542.7,427.15L1538.3,436.25L1547.1,436.25ZM1551.7,439.37L1547.3,448.47L1556.1,448.47ZM1560.7,471.43L1556.3,480.53L1565.11,480.53ZM1569.71,431.07L1565.31,440.17L1574.11,440.17ZM1578.72,362.12L1574.32,371.22L1583.12,371.22ZM1587.72,475.12L1583.32,484.22L1592.12,484.22ZM1596.72,407.78L1592.32,416.88L1601.12,416.88ZM1605.73,477.19L1601.33,486.29L1610.13,486.29ZM1614.74,326.15L1610.34,335.25L1619.14,335.25ZM1623.74,452.06L1619.34,461.16L1628.14,461.16ZM1632.75,372.5L1628.35,381.6L1637.15,381.6ZM1641.75,257.2L1637.35,266.3L1646.15,266.3ZM1650.76,474.43L1646.36,483.53L1655.16,483.53ZM1659.76,474.43L1655.36,483.53L1664.16,483.53ZM1668.77,424.38L1664.37,433.49L1673.17,433.49ZM1677.77,474.89L1673.37,483.99L1682.17,483.99ZM1686.78,257.2L1682.38,266.3L1691.18,266.3ZM1695.78,257.2L1691.38,266.3L1700.18,266.3ZM1704.79,454.36L1700.38,463.46L1709.19,463.46ZM1713.79,256.97L1709.39,266.07L1718.19,266.07ZM1722.8,440.99L1718.39,450.09L1727.2,450.09ZM1731.8,475.58L1727.4,484.68L1736.2,484.68ZM1740.81,475.81L1736.4,484.91L1745.21,484.91ZM1749.81,336.76L1745.41,345.86L1754.21,345.86ZM1758.82,474.66L1754.41,483.76L1763.22,483.76ZM1767.82,435.92L1763.42,445.02L1772.22,445.02ZM1776.83,357.28L1772.42,366.38L1781.23,366.38ZM1785.83,406.63L1781.43,415.73L1790.23,415.73ZM1794.84,461.05L1790.43,470.15L1799.24,470.15ZM1803.84,487.8L1799.44,496.9L1808.24,496.9ZM1812.85,487.8L1808.44,496.9L1817.25,496.9ZM1821.85,487.8L1817.45,496.9L1826.25,496.9ZM1830.86,487.8L1826.45,496.9L1835.26,496.9ZM1839.86,487.8L1835.46,496.9L1844.26,496.9ZM1848.87,487.8L1844.46,496.9L1853.27,496.9ZM1857.87,487.8L1853.47,496.9L1862.27,496.9ZM1866.88,487.8L1862.47,496.9L1871.28,496.9ZM1875.88,487.8L1871.48,496.9L1880.28,496.9ZM1884.89,487.8L1880.49,496.9L1889.29,496.9ZM1893.89,487.8L1889.49,496.9L1898.29,496.9ZM1902.89,487.8L1898.49,496.9L1907.3,496.9ZM1911.9,487.8L1907.5,496.9L1916.3,496.9ZM1920.91,487.8L1916.51,496.9L1925.31,496.9ZM1929.91,487.8L1925.51,496.9L1934.31,496.9ZM1938.91,487.8L1934.51,496.9L1943.32,496.9ZM1947.92,487.8L1943.52,496.9L1952.32,496.9ZM1956.93,431.07L1952.53,440.17L1961.33,440.17ZM1965.93,487.8L1961.53,496.9L1970.33,496.9Z" fill="#cfe4f0" stroke="#cfe4f0" stroke-width="1"/>
<polyline points="1191.5,464.66 1200.51,433.07 1209.51,358.12 1218.52,369.42 1227.52,30.9 1236.53,272.34 1245.53,310.85 1254.54,330.91 1263.54,261.5 1272.55,434.91 1281.55,343.59 1290.56,162.57 1299.56,365.5 1308.57,184.25 1317.57,281.1 1326.58,261.5 1335.58,369.42 1344.59,261.5 1353.59,215.38 1362.6,261.5 1371.6,171.1 1380.61,330.68 1389.61,298.63 1398.62,218.61 1407.62,451.28 1416.62,307.39 1425.63,432.61 1434.63,257.81 1443.64,264.73 1452.64,223.22 1461.65,180.33 1470.65,353.74 1479.66,202.93 1488.66,421.77 1497.67,265.88 1506.67,314.54 1515.68,341.75 1524.68,357.89 1533.69,321.92 1542.7,373.34 1551.7,373.34 1560.7,360.43 1569.71,358.12 1578.72,341.29 1587.72,401.94 1596.72,367.58 1605.73,404.01 1614.74,225.3 1623.74,342.67 1632.75,146.2 1641.75,30.9 1650.76,363.19 1659.76,363.19 1668.77,247.2 1677.77,248.59 1686.78,30.9 1695.78,107.69 1704.79,343.36 1713.79,215.15 1722.8,377.49 1731.8,462.58 1740.81,454.74 1749.81,288.94 1758.82,478.96 1767.82,306.24 1776.83,257.12 1785.83,390.17 1794.84,441.83 1803.84,415.31 1812.85,478.73 1821.85,478.73 1830.86,365.5 1839.86,309.93 1848.87,261.27 1857.87,471.12 1866.88,421.77 1875.88,481.03 1884.89,376.8 1893.89,300.7 1902.89,463.51 1911.9,481.03 1920.91,290.79 1929.91,432.61 1938.91,307.62 1947.92,478.73 1956.93,278.1 1965.93,429.84" fill="none" stroke="#8259c5" stroke-width="2" stroke-linejoin="round"/>
<path d="M1187.2,460.36h8.6v8.6h-8.6ZM1196.21,428.77h8.6v8.6h-8.6ZM1205.21,353.82h8.6v8.6h-8.6ZM1214.22,365.12h8.6v8.6h-8.6ZM1223.22,26.6h8.6v8.6h-8.6ZM1232.23,268.04h8.6v8.6h-8.6ZM1241.23,306.55h8.6v8.6h-8.6ZM1250.24,326.61h8.6v8.6h-8.6ZM1259.24,257.2h8.6v8.6h-8.6ZM1268.25,430.61h8.6v8.6h-8.6ZM1277.25,339.29h8.6v8.6h-8.6ZM1286.26,158.27h8.6v8.6h-8.6ZM1295.26,361.2h8.6v8.6h-8.6ZM1304.27,179.95h8.6v8.6h-8.6ZM1313.27,276.8h8.6v8.6h-8.6ZM1322.28,257.2h8.6v8.6h-8.6ZM1331.28,365.12h8.6v8.6h-8.6ZM1340.29,257.2h8.6v8.6h-8.6ZM1349.29,211.08h8.6v8.6h-8.6ZM1358.3,257.2h8.6v8.6h-8.6ZM1367.3,166.8h8.6v8.6h-8.6ZM1376.31,326.38h8.6v8.6h-8.6ZM1385.31,294.33h8.6v8.6h-8.6ZM1394.32,214.31h8.6v8.6h-8.6ZM1403.32,446.98h8.6v8.6h-8.6ZM1412.33,303.09h8.6v8.6h-8.6ZM1421.33,428.31h8.6v8.6h-8.6ZM1430.34,253.51h8.6v8.6h-8.6ZM1439.34,260.43h8.6v8.6h-8.6ZM1448.35,218.92h8.6v8.6h-8.6ZM1457.35,176.03h8.6v8.6h-8.6ZM1466.36,349.44h8.6v8.6h-8.6ZM1475.36,198.63h8.6v8.6h-8.6ZM1484.37,417.47h8.6v8.6h-8.6ZM1493.37,261.58h8.6v8.6h-8.6ZM1502.38,310.24h8.6v8.6h-8.6ZM1511.38,337.45h8.6v8.6h-8.6ZM1520.38,353.59h8.6v8.6h-8.6ZM1529.39,317.62h8.6v8.6h-8.6ZM1538.4,369.04h8.6v8.6h-8.6ZM1547.4,369.04h8.6v8.6h-8.6ZM1556.4,356.13h8.6v8.6h-8.6ZM1565.41,353.82h8.6v8.6h-8.6ZM1574.42,336.99h8.6v8.6h-8.6ZM1583.42,397.64h8.6v8.6h-8.6ZM1592.42,363.28h8.6v8.6h-8.6ZM1601.43,399.71h8.6v8.6h-8.6ZM1610.44,221h8.6v8.6h-8.6ZM1619.44,338.37h8.6v8.6h-8.6ZM1628.45,141.9h8.6v8.6h-8.6ZM1637.45,26.6h8.6v8.6h-8.6ZM1646.46,358.89h8.6v8.6h-8.6ZM1655.46,358.89h8.6v8.6h-8.6ZM1664.47,242.9h8.6v8.6h-8.6ZM1673.47,244.29h8.6v8.6h-8.6ZM1682.48,26.6h8.6v8.6h-8.6ZM1691.48,103.39h8.6v8.6h-8.6ZM1700.49,339.06h8.6v8.6h-8.6ZM1709.49,210.85h8.6v8.6h-8.6ZM1718.5,373.19h8.6v8.6h-8.6ZM1727.5,458.28h8.6v8.6h-8.6ZM1736.51,450.44h8.6v8.6h-8.6ZM1745.51,284.64h8.6v8.6h-8.6ZM1754.52,474.66h8.6v8.6h-8.6ZM1763.52,301.94h8.6v8.6h-8.6ZM1772.53,252.82h8.6v8.6h-8.6ZM1781.53,385.87h8.6v8.6h-8.6ZM1790.54,437.53h8.6v8.6h-8.6ZM1799.54,411.01h8.6v8.6h-8.6ZM1808.55,474.43h8.6v8.6h-8.6ZM1817.55,474.43h8.6v8.6h-8.6ZM1826.56,361.2h8.6v8.6h-8.6ZM1835.56,305.63h8.6v8.6h-8.6ZM1844.57,256.97h8.6v8.6h-8.6ZM1853.57,466.82h8.6v8.6h-8.6ZM1862.58,417.47h8.6v8.6h-8.6ZM1871.58,476.73h8.6v8.6h-8.6ZM1880.59,372.5h8.6v8.6h-8.6ZM1889.59,296.4h8.6v8.6h-8.6ZM1898.6,459.21h8.6v8.6h-8.6ZM1907.6,476.73h8.6v8.6h-8.6ZM1916.61,286.49h8.6v8.6h-8.6ZM1925.61,428.31h8.6v8.6h-8.6ZM1934.62,303.32h8.6v8.6h-8.6ZM1943.62,474.43h8.6v8.6h-8.6ZM1952.63,273.8h8.6v8.6h-8.6ZM1961.63,425.54h8.6v8.6h-8.6Z" fill="#8259c5" stroke="#8259c5" stroke-width="1"/>
<line x1="1362.3" y1="9.8" x2="1362.3" y2="517.2" stroke="#d2c4b6" stroke-width="2.1" stroke-dasharray="7.7,4.41"/>
<line x1="1578.42" y1="9.8" x2="1578.42" y2="517.2" stroke="#d2c4b6" stroke-width="2.1" stroke-dasharray="7.7,4.41"/>
<line x1="1794.54" y1="9.8" x2="1794.54" y2="517.2" stroke="#d2c4b6" stroke-width="2.1" stroke-dasharray="7.7,4.41"/>
</g>
<rect x="1153" y="8" width="851.3" height="507.2" fill="none" stroke="#000" stroke-width="1.3"/>
<path d="M1191.5,515.2v6.4M1200.51,515.2v6.4M1209.51,515.2v6.4M1218.52,515.2v6.4M1227.52,515.2v6.4M1236.53,515.2v6.4M1245.53,515.2v6.4M1254.54,515.2v6.4M1263.54,515.2v6.4M1272.55,515.2v6.4M1281.55,515.2v6.4M1290.56,515.2v6.4M1299.56,515.2v6.4M1308.57,515.2v6.4M1317.57,515.2v6.4M1326.58,515.2v6.4M1335.58,515.2v6.4M1344.59,515.2v6.4M1353.59,515.2v6.4M1362.6,515.2v6.4M1371.6,515.2v6.4M1380.61,515.2v6.4M1389.61,515.2v6.4M1398.62,515.2v6.4M1407.62,515.2v6.4M1416.62,515.2v6.4M1425.63,515.2v6.4M1434.63,515.2v6.4M1443.64,515.2v6.4M1452.64,515.2v6.4M1461.65,515.2v6.4M1470.65,515.2v6.4M1479.66,515.2v6.4M1488.66,515.2v6.4M1497.67,515.2v6.4M1506.67,515.2v6.4M1515.68,515.2v6.4M1524.68,515.2v6.4M1533.69,515.2v6.4M1542.7,515.2v6.4M1551.7,515.2v6.4M1560.7,515.2v6.4M1569.71,515.2v6.4M1578.72,515.2v6.4M1587.72,515.2v6.4M1596.72,515.2v6.4M1605.73,515.2v6.4M1614.74,515.2v6.4M1623.74,515.2v6.4M1632.75,515.2v6.4M1641.75,515.2v6.4M1650.76,515.2v6.4M1659.76,515.2v6.4M1668.77,515.2v6.4M1677.77,515.2v6.4M1686.78,515.2v6.4M1695.78,515.2v6.4M1704.79,515.2v6.4M1713.79,515.2v6.4M1722.8,515.2v6.4M1731.8,515.2v6.4M1740.81,515.2v6.4M1749.81,515.2v6.4M1758.82,515.2v6.4M1767.82,515.2v6.4M1776.83,515.2v6.4M1785.83,515.2v6.4M1794.84,515.2v6.4M1803.84,515.2v6.4M1812.85,515.2v6.4M1821.85,515.2v6.4M1830.86,515.2v6.4M1839.86,515.2v6.4M1848.87,515.2v6.4M1857.87,515.2v6.4M1866.88,515.2v6.4M1875.88,515.2v6.4M1884.89,515.2v6.4M1893.89,515.2v6.4M1902.89,515.2v6.4M1911.9,515.2v6.4M1920.91,515.2v6.4M1929.91,515.2v6.4M1938.91,515.2v6.4M1947.92,515.2v6.4M1956.93,515.2v6.4M1965.93,515.2v6.4M1153,492.1h-5.8M1153,434.45h-5.8M1153,376.8h-5.8M1153,319.15h-5.8M1153,261.5h-5.8M1153,203.85h-5.8M1153,146.2h-5.8M1153,88.55h-5.8M1153,30.9h-5.8" stroke="#000" stroke-width="1.2" fill="none"/>
<g font-family="'Liberation Serif', 'Times New Roman', serif" font-size="11.5" fill="#000" stroke="#000" stroke-width="0.2" text-anchor="end"><text transform="translate(1194,528.0) rotate(-90)">EC01</text><text transform="translate(1203.01,528.0) rotate(-90)">EC02</text><text transform="translate(1212.01,528.0) rotate(-90)">EC03</text><text transform="translate(1221.02,528.0) rotate(-90)">EC04</text><text transform="translate(1230.02,528.0) rotate(-90)">EC05</text><text transform="translate(1239.03,528.0) rotate(-90)">EC06</text><text transform="translate(1248.03,528.0) rotate(-90)">EC07</text><text transform="translate(1257.04,528.0) rotate(-90)">EC08</text><text transform="translate(1266.04,528.0) rotate(-90)">EC09</text><text transform="translate(1275.05,528.0) rotate(-90)">EC10</text><text transform="translate(1284.05,528.0) rotate(-90)">EC11</text><text transform="translate(1293.06,528.0) rotate(-90)">EC12</text><text transform="translate(1302.06,528.0) rotate(-90)">EC13</text><text transform="translate(1311.07,528.0) rotate(-90)">EC14</text><text transform="translate(1320.07,528.0) rotate(-90)">EC15</text><text transform="translate(1329.08,528.0) rotate(-90)">EC16</text><text transform="translate(1338.08,528.0) rotate(-90)">EC17</text><text transform="translate(1347.09,528.0) rotate(-90)">EC18</text><text transform="translate(1356.09,528.0) rotate(-90)">EC19</text><text transform="translate(1365.1,528.0) rotate(-90)">EC20</text><text transform="translate(1374.1,528.0) rotate(-90)">HF01</text><text transform="translate(1383.11,528.0) rotate(-90)">HF02</text><text transform="translate(1392.11,528.0) rotate(-90)">HF03</text><text transform="translate(1401.12,528.0) rotate(-90)">HF04</text><text transform="translate(1410.12,528.0) rotate(-90)">HF05</text><text transform="translate(1419.12,528.0) rotate(-90)">HF06</text><text transform="translate(1428.13,528.0) rotate(-90)">HF07</text><text transform="translate(1437.13,528.0) rotate(-90)">HF08</text><text transform="translate(1446.14,528.0) rotate(-90)">HF09</text><text transform="translate(1455.14,528.0) rotate(-90)">HF10</text><text transform="translate(1464.15,528.0) rotate(-90)">HF11</text><text transform="translate(1473.15,528.0) rotate(-90)">HF12</text><text transform="translate(1482.16,528.0) rotate(-90)">HF13</text><text transform="translate(1491.16,528.0) rotate(-90)">HF14</text><text transform="translate(1500.17,528.0) rotate(-90)">HF15</text><text transform="translate(1509.17,528.0) rotate(-90)">HF16</text><text transform="translate(1518.18,528.0) rotate(-90)">HF17</text><text transform="translate(1527.18,528.0) rotate(-90)">HF18</text><text transform="translate(1536.19,528.0) rotate(-90)">HF19</text><text transform="translate(1545.2,528.0) rotate(-90)">HF20</text><text transform="translate(1554.2,528.0) rotate(-90)">HF21</text><text transform="translate(1563.2,528.0) rotate(-90)">HF22</text><text transform="translate(1572.21,528.0) rotate(-90)">HF23</text><text transform="translate(1581.22,528.0) rotate(-90)">HF24</text><text transform="translate(1590.22,528.0) rotate(-90)">MC01</text><text transform="translate(1599.22,528.0) rotate(-90)">MC02</text><text transform="translate(1608.23,528.0) rotate(-90)">MC03</text><text transform="translate(1617.24,528.0) rotate(-90)">MC04</text><text transform="translate(1626.24,528.0) rotate(-90)">MC05</text><text transform="translate(1635.25,528.0) rotate(-90)">MC06</text><text transform="translate(1644.25,528.0) rotate(-90)">MC07</text><text transform="translate(1653.26,528.0) rotate(-90)">MC08</text><text transform="translate(1662.26,528.0) rotate(-90)">MC09</text><text transform="translate(1671.27,528.0) rotate(-90)">MC10</text><text transform="translate(1680.27,528.0) rotate(-90)">MC11</text><text transform="translate(1689.28,528.0) rotate(-90)">MC12</text><text transform="translate(1698.28,528.0) rotate(-90)">MC13</text><text transform="translate(1707.29,528.0) rotate(-90)">MC14</text><text transform="translate(1716.29,528.0) rotate(-90)">MC15</text><text transform="translate(1725.3,528.0) rotate(-90)">MC16</text><text transform="translate(1734.3,528.0) rotate(-90)">MC17</text><text transform="translate(1743.31,528.0) rotate(-90)">MF01</text><text transform="translate(1752.31,528.0) rotate(-90)">MF02</text><text transform="translate(1761.32,528.0) rotate(-90)">MF03</text><text transform="translate(1770.32,528.0) rotate(-90)">MF04</text><text transform="translate(1779.33,528.0) rotate(-90)">MF05</text><text transform="translate(1788.33,528.0) rotate(-90)">MF06</text><text transform="translate(1797.34,528.0) rotate(-90)">MF07</text><text transform="translate(1806.34,528.0) rotate(-90)">R01</text><text transform="translate(1815.35,528.0) rotate(-90)">R02</text><text transform="translate(1824.35,528.0) rotate(-90)">R03</text><text transform="translate(1833.36,528.0) rotate(-90)">R04</text><text transform="translate(1842.36,528.0) rotate(-90)">R05</text><text transform="translate(1851.37,528.0) rotate(-90)">R06</text><text transform="translate(1860.37,528.0) rotate(-90)">R07</text><text transform="translate(1869.38,528.0) rotate(-90)">R08</text><text transform="translate(1878.38,528.0) rotate(-90)">R09</text><text transform="translate(1887.39,528.0) rotate(-90)">R10</text><text transform="translate(1896.39,528.0) rotate(-90)">R11</text><text transform="translate(1905.39,528.0) rotate(-90)">R12</text><text transform="translate(1914.4,528.0) rotate(-90)">R13</text><text transform="translate(1923.41,528.0) rotate(-90)">R14</text><text transform="translate(1932.41,528.0) rotate(-90)">R15</text><text transform="translate(1941.41,528.0) rotate(-90)">R16</text><text transform="translate(1950.42,528.0) rotate(-90)">R17</text><text transform="translate(1959.43,528.0) rotate(-90)">R18</text><text transform="translate(1968.43,528.0) rotate(-90)">R19</text></g>
<g font-family="'Liberation Serif', 'Times New Roman', serif" font-size="11.8" fill="#000" stroke="#000" stroke-width="0.2" text-anchor="end"><text x="1141.5" y="496.2">0.00</text><text x="1141.5" y="438.55">0.25</text><text x="1141.5" y="380.9">0.50</text><text x="1141.5" y="323.25">0.75</text><text x="1141.5" y="265.6">1.00</text><text x="1141.5" y="207.95">1.25</text><text x="1141.5" y="150.3">1.50</text><text x="1141.5" y="92.65">1.75</text><text x="1141.5" y="35">2.00</text></g>
<text transform="translate(1578.65,575.5) scale(1,1.09)" font-family="'Liberation Serif', 'Times New Roman', serif" font-size="15" text-anchor="middle">Node Name</text>
<text transform="translate(1111.9,262.6) rotate(-90) scale(1,1.1)" font-family="'Liberation Serif', 'Times New Roman', serif" font-size="15" text-anchor="middle">Value</text>
<rect x="1888.2" y="14.6" width="109.9" height="54.7" rx="2.5" fill="#fff" fill-opacity="0.8" stroke="#d2d2d2" stroke-width="1.2"/>
<line x1="1892" y1="23" x2="1918.4" y2="23" stroke="#2080a0" stroke-width="2"/>
<circle cx="1905.2" cy="23" r="4.75" fill="#2080a0" stroke="#2080a0"/>
<text x="1927.4" y="27.3" font-family="'Liberation Serif', 'Times New Roman', serif" font-size="12.0" stroke="#000" stroke-width="0.18">In strength</text>
<line x1="1892" y1="40" x2="1918.4" y2="40" stroke="#cfe4f0" stroke-width="2"/>
<path d="M1905.2,35.7L1900.8,44.8L1909.6,44.8Z" fill="#cfe4f0" stroke="#cfe4f0"/>
<text x="1927.4" y="44.3" font-family="'Liberation Serif', 'Times New Roman', serif" font-size="12.0" stroke="#000" stroke-width="0.18">Out strength</text>
<line x1="1892" y1="57" x2="1918.4" y2="57" stroke="#8259c5" stroke-width="2"/>
<rect x="1900.9" y="52.7" width="8.6" height="8.6" fill="#8259c5" stroke="#8259c5"/>
<text x="1927.4" y="61.3" font-family="'Liberation Serif', 'Times New Roman', serif" font-size="12.0" stroke="#000" stroke-width="0.18">Total strength</text><g font-size="37.2" fill="#000"><text x="0" y="642.5" word-spacing="0.25"><tspan font-family="'Liberation Sans', Arial, sans-serif" font-weight="bold">(a)</tspan><tspan font-family="'Liberation Serif', 'Times New Roman', serif"> In degree, out degree, and total degree of nodes in the</tspan></text><text x="0" y="687.7" font-family="'Liberation Serif', 'Times New Roman', serif">CESRN.</text><text x="1084" y="642.4" word-spacing="0.5"><tspan font-family="'Liberation Sans', Arial, sans-serif" font-weight="bold">(b)</tspan><tspan font-family="'Liberation Serif', 'Times New Roman', serif"> In strength, out strength and total strength of nodes in the</tspan></text><text x="1084" y="687.7" font-family="'Liberation Serif', 'Times New Roman', serif">CESRN</text></g></svg>
</body></html>
